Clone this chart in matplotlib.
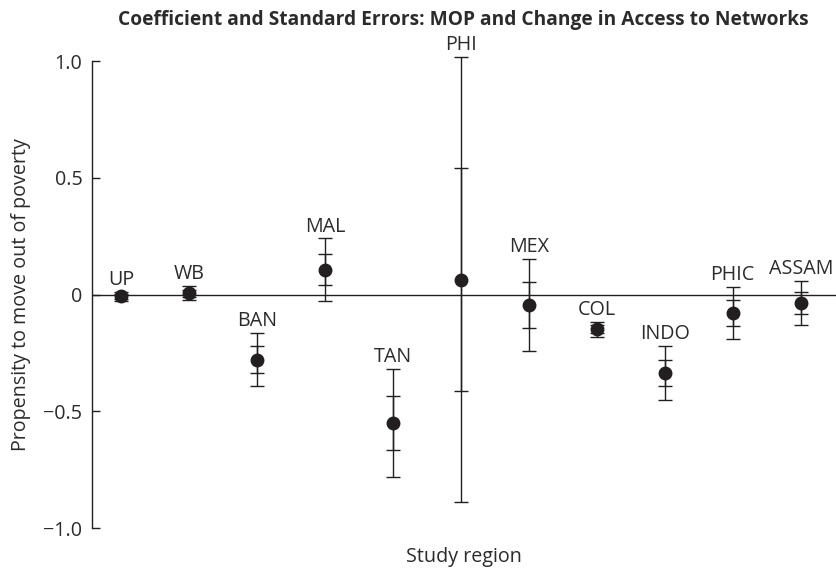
import numpy as np
import matplotlib
matplotlib.use("Agg")
import matplotlib.pyplot as plt

# study regions, coefficient and standard error for each
regions = ["UP", "WB", "BAN", "MAL", "TAN", "PHI", "MEX", "COL", "INDO", "PHIC", "ASSAM"]
coef = [-0.008, 0.005, -0.279, 0.106, -0.549, 0.064, -0.045, -0.148, -0.336, -0.080, -0.037]
se = [0.010, 0.015, 0.057, 0.067, 0.116, 0.476, 0.099, 0.016, 0.057, 0.056, 0.047]

ink = "#231f20"
txt = "#2b2b2b"
fs = 14.2
plt.rcParams["font.family"] = ["Open Sans", "DejaVu Sans"]

fig = plt.figure(figsize=(8.37, 5.68), dpi=100)
ax = fig.add_axes([0.1099, 0.0704, 0.889, 0.8222])

x = np.arange(1, len(regions) + 1)
coef = np.array(coef)
se = np.array(se)

# zero reference line
ax.axhline(0, color=ink, linewidth=1.0, zorder=1)

# outer bars at 2 SE, inner caps at 1 SE
ax.errorbar(x, coef, yerr=2 * se, fmt="none", ecolor=ink, elinewidth=1.0,
            capsize=4.8, capthick=1.0, clip_on=False, zorder=2)
ax.errorbar(x, coef, yerr=se, fmt="o", color=ink, markersize=9, ecolor=ink,
            elinewidth=1.0, capsize=4.8, capthick=1.0, clip_on=False, zorder=3)

for xi, c, s, name in zip(x, coef, se, regions):
    ax.annotate(name, (xi, c + 2 * s), xytext=(0, 5), textcoords="offset points",
                ha="center", va="baseline", fontsize=fs, color=txt,
                annotation_clip=False)

ax.set_xlim(0.575, 11.52)
ax.set_ylim(-1.0, 1.0)
ax.set_yticks([1.0, 0.5, 0, -0.5, -1.0])
ax.set_yticklabels(["1.0", "0.5", "0", "\u22120.5", "\u22121.0"])
ax.set_xticks([])

for side in ["top", "right", "bottom"]:
    ax.spines[side].set_visible(False)
ax.spines["left"].set_color(ink)
ax.spines["left"].set_linewidth(1.0)
ax.tick_params(axis="y", direction="in", length=6, width=1.0, color=ink,
               labelsize=fs, labelcolor=txt, pad=7)

ax.set_ylabel("Propensity to move out of poverty", fontsize=fs, color=txt, labelpad=9)
ax.set_xlabel("Study region", fontsize=fs, color=txt, labelpad=14)
fig.suptitle("Coefficient and Standard Errors: MOP and Change in Access to Networks",
             x=0.553, y=0.982, fontsize=13.8, fontweight="bold", color=txt)

fig.savefig("out.png", dpi=100)
